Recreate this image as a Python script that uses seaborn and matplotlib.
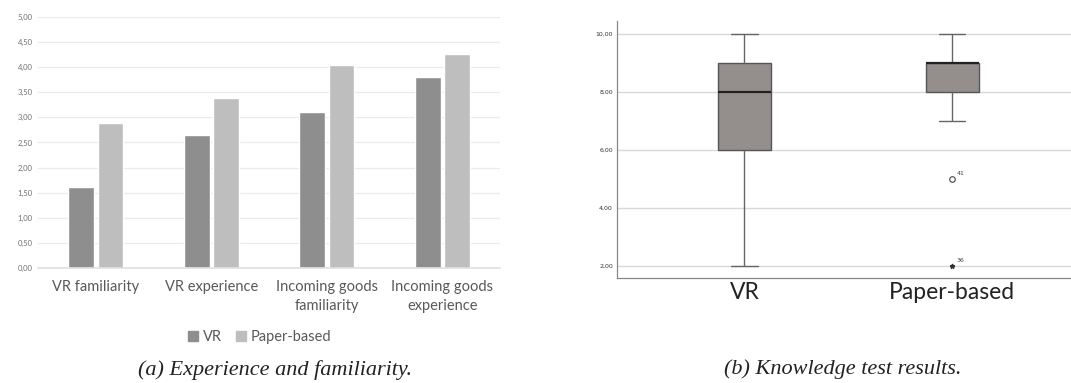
import numpy as np
import pandas as pd
import matplotlib
matplotlib.use("Agg")
import matplotlib.pyplot as plt
from matplotlib.ticker import FuncFormatter
from matplotlib.patches import Patch
import seaborn as sns

# data panel (a)
categories = ["VR familiarity", "VR experience", "Incoming goods\nfamiliarity", "Incoming goods\nexperience"]
vr_means = [1.61, 2.64, 3.10, 3.80]
paper_means = [2.89, 3.38, 4.05, 4.27]
bar_ticks = [0, 0.5, 1, 1.5, 2, 2.5, 3, 3.5, 4, 4.5, 5]

# data panel (b): raw test scores
groups = ["VR", "Paper-based"]
vr_scores = [2, 5, 6, 6, 7, 8, 8, 8, 9, 9, 9, 10]
paper_scores = [2, 5, 7, 8, 8, 8, 9, 9, 9, 9, 9, 9, 10, 10]
case_ids = {5: "41", 2: "36"}
box_ticks = [2, 4, 6, 8, 10]

sns.set_theme(style="white")
plt.rcParams["font.family"] = ["Lato", "DejaVu Sans"]

fig = plt.figure(figsize=(10.71, 3.83), dpi=100)

comma = FuncFormatter(lambda v, p: f"{v:.2f}".replace(".", ","))

# ---- (a) bar chart
ax1 = fig.add_axes([0.0355, 0.3003, 0.4314, 0.6553])
bars = pd.DataFrame({
    "cat": categories * 2,
    "val": vr_means + paper_means,
    "grp": ["VR"] * 4 + ["Paper-based"] * 4,
})
pal = {"VR": "#8e8e8e", "Paper-based": "#bebebe"}
sns.barplot(data=bars, x="cat", y="val", hue="grp", palette=pal, width=0.51,
            gap=0.12, ax=ax1, legend=False, zorder=2)
ax1.set_ylim(0, 5)
ax1.set_xlim(-0.5, 3.5)
ax1.set_yticks(bar_ticks)
ax1.yaxis.set_major_formatter(comma)
ax1.grid(axis="y", color="#ebebeb", lw=0.9, zorder=0)
ax1.set_axisbelow(True)
for s in ax1.spines.values():
    s.set_visible(False)
ax1.spines["bottom"].set_visible(True)
ax1.spines["bottom"].set_color("#e0e0e0")
ax1.tick_params(axis="y", labelsize=5.5, labelcolor="#707070", length=0, pad=4)
ax1.tick_params(axis="x", labelsize=10.5, labelcolor="#595959", length=0, pad=9)
for t in ax1.get_xticklabels():
    t.set_linespacing(1.45)
ax1.set_xlabel("")
ax1.set_ylabel("")
handles = [Patch(color=pal[g]) for g in ["VR", "Paper-based"]]
ax1.legend(handles, ["VR", "Paper-based"], loc="upper center", bbox_to_anchor=(0.48, -0.195),
           ncol=2, frameon=False, fontsize=10.5, handlelength=0.65, handleheight=0.65,
           handletextpad=0.35, columnspacing=1.0, labelcolor="#595959")

# ---- (b) box plot
ax2 = fig.add_axes([0.5761, 0.2742, 0.4239, 0.6710])
scores = pd.DataFrame({
    "grp": ["VR"] * len(vr_scores) + ["Paper-based"] * len(paper_scores),
    "score": vr_scores + paper_scores,
})
sns.boxplot(data=scores, x="grp", y="score", order=groups, width=0.255,
            color="#948f8d", saturation=1, showfliers=False, linecolor="#555555",
            linewidth=1.0, ax=ax2, zorder=3,
            whiskerprops={"color": "#666666"}, capprops={"color": "#666666"},
            medianprops={"color": "#222222", "linewidth": 1.6})
# outliers (SPSS style: circle > 1.5 IQR, star > 3 IQR)
for i, g in enumerate(groups):
    vals = np.array(scores.loc[scores.grp == g, "score"])
    q1, q3 = np.percentile(vals, [25, 75])
    iqr = q3 - q1
    for v in sorted(set(vals[(vals < q1 - 1.5 * iqr) | (vals > q3 + 1.5 * iqr)])):
        far = v < q1 - 3 * iqr or v > q3 + 3 * iqr
        if far:
            ax2.plot(i, v, marker="*", ms=3.5, color="#333333", zorder=4)
        else:
            ax2.plot(i, v, marker="o", ms=4, mfc="white", mec="#444444", mew=0.8, zorder=4)
        ax2.annotate(case_ids[v], (i, v), xytext=(3, 3), textcoords="offset points",
                     fontsize=4.5, color="#444444", family=["DejaVu Sans"])
ax2.set_xlim(-0.614, 1.573)
ax2.set_ylim(1.59, 10.44)
ax2.set_yticks(box_ticks)
ax2.yaxis.set_major_formatter(comma)
ax2.grid(axis="y", color="#d8d8d8", lw=1.0, zorder=0)
ax2.set_axisbelow(True)
for side in ["top", "right"]:
    ax2.spines[side].set_visible(False)
for side in ["left", "bottom"]:
    ax2.spines[side].set_color("#888888")
    ax2.spines[side].set_linewidth(0.9)
ax2.tick_params(axis="y", labelsize=4.5, labelcolor="#333333", length=0, pad=3)
ax2.tick_params(axis="x", labelsize=16.5, labelcolor="#222222", length=0, pad=3)
for t in ax2.get_yticklabels():
    t.set_family(["DejaVu Sans"])
ax2.set_xlabel("")
ax2.set_ylabel("")

# captions
fig.text(0.257, 0.035, "(a) Experience and familiarity.", ha="center", va="center",
         fontsize=16, style="italic", family=["Liberation Serif"], color="#222222")
fig.text(0.787, 0.035, "(b) Knowledge test results.", ha="center", va="center",
         fontsize=16, style="italic", family=["Liberation Serif"], color="#222222")

fig.savefig("out.png", dpi=100)
